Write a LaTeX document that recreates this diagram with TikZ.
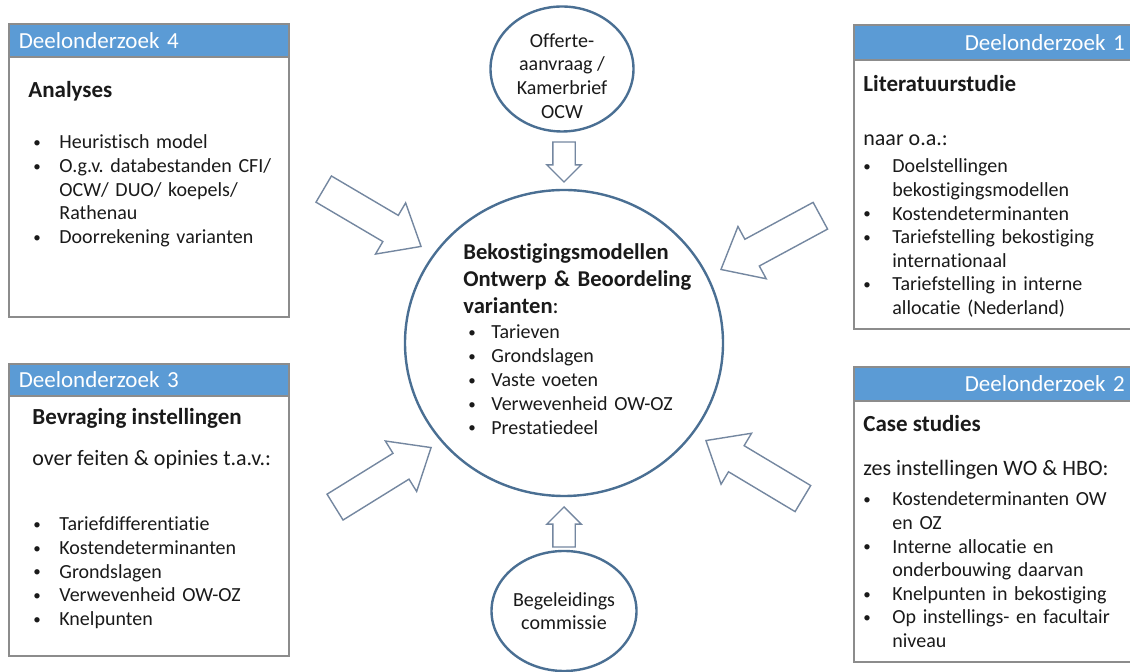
\documentclass[tikz,border=0pt]{standalone}
\usepackage{fontspec}
\setmainfont{Carlito}[Ligatures=NoCommon]
\usepackage{tikz}
\usetikzlibrary{positioning, shapes.geometric, shapes.arrows}

\definecolor{kopblauw}{HTML}{5B9BD5}
\definecolor{randgrijs}{HTML}{8C8C8C}
\definecolor{cirkelblauw}{HTML}{4A6F93}
\definecolor{pijlgrijs}{HTML}{7487A0}
\definecolor{tekstzwart}{HTML}{1A1A1A}

\frenchspacing
\newlength\bulw
\newcommand\bol{\raisebox{0.6pt}{\fontsize{7.5}{8}\selectfont\textbullet}}
\newcommand\itm[1]{\makebox[\bulw][l]{\bol}#1\par}
\newcommand\vrv[1]{\leavevmode\hspace*{\bulw}#1\par}

\begin{document}
\begin{tikzpicture}[x=0.5pt, y=-0.5pt, every node/.style={text=tekstzwart}]
\useasboundingbox (0,0) rectangle (1130,672);

\tikzstyle{deel box}=[draw=randgrijs, line width=0.8pt, fill=white, anchor=north west, inner sep=0pt]
\tikzstyle{kop}=[draw=randgrijs, line width=0.8pt, fill=kopblauw, text=white, anchor=north west, inner xsep=5pt, inner ysep=0pt, font=\fontsize{11.5}{13}\selectfont]
\tikzstyle{titel}=[anchor=base west, inner sep=0pt, font=\fontsize{11.5}{13}\selectfont\bfseries]
\tikzstyle{intro}=[anchor=base west, inner sep=0pt, font=\fontsize{11}{13}\selectfont]
\tikzstyle{lijst}=[anchor=base west, inner sep=0pt, text width=130pt, font=\fontsize{10}{11.8}\selectfont]
\tikzstyle{cirkel}=[ellipse, draw=cirkelblauw, line width=1.2pt, fill=white, inner sep=0pt]
\tikzstyle{invoer pijl}=[single arrow, draw=pijlgrijs, line width=0.7pt, fill=white, anchor=tip, minimum height=56.5pt, minimum width=0pt, inner xsep=0pt, inner ysep=7.25pt, single arrow head extend=7.25pt, single arrow tip angle=80]
\tikzstyle{klein pijl}=[invoer pijl, minimum height=20pt, inner ysep=5.25pt, single arrow head extend=3pt, single arrow tip angle=90]

% Deelonderzoek 4 (linksboven)
\node[deel box, minimum width=140pt, minimum height=146.5pt] (d4) at (8,23) {};
\node[kop, minimum height=16.5pt, text width=130pt, align=left] (k4) at (d4.north west) {Deelonderzoek 4};
\node[titel] (t4) at (28,98) {Analyses};
\node[lijst, execute at begin node={\setlength\bulw{13pt}}] (l4) at (33,149)
  {\itm{Heuristisch model}\itm{O.g.v. databestanden CFI/}\vrv{OCW/ DUO/ koepels/}\vrv{Rathenau}\itm{Doorrekening varianten}};

% Deelonderzoek 3 (linksonder)
\node[deel box, minimum width=140pt, minimum height=146pt] (d3) at (8,363) {};
\node[kop, minimum height=16pt, text width=130pt, align=left] (k3) at (d3.north west) {Deelonderzoek 3};
\node[titel] (t3) at (32,425) {Bevraging instellingen};
\node[intro] (i3) at (32,466) {over feiten \& opinies t.a.v.:};
\node[lijst, execute at begin node={\setlength\bulw{13pt}}] (l3) at (33,531)
  {\itm{Tariefdifferentiatie}\itm{Kostendeterminanten}\itm{Grondslagen}\itm{Verwevenheid OW-OZ}\itm{Knelpunten}};

% Deelonderzoek 1 (rechtsboven)
\node[deel box, minimum width=139.5pt, minimum height=152pt] (d1) at (853,24) {};
\node[kop, minimum height=17.5pt, text width=131.5pt, align=right, inner xsep=4pt] (k1) at (d1.north west) {Deelonderzoek 1};
\node[titel] (t1) at (863,92) {Literatuurstudie};
\node[intro] (i1) at (863,146) {naar o.a.:};
\node[lijst, execute at begin node={\setlength\bulw{14.5pt}}] (l1) at (863,173)
  {\itm{Doelstellingen}\vrv{bekostigingsmodellen}\itm{Kostendeterminanten}\itm{Tariefstelling bekostiging}\vrv{internationaal}\itm{Tariefstelling in interne}\vrv{allocatie (Nederland)}};

% Deelonderzoek 2 (rechtsonder)
\node[deel box, minimum width=139.5pt, minimum height=147.5pt] (d2) at (853,366) {};
\node[kop, minimum height=17pt, text width=131.5pt, align=right, inner xsep=4pt] (k2) at (d2.north west) {Deelonderzoek 2};
\node[titel] (t2) at (863,432) {Case studies};
\node[intro] (i2) at (863,476) {zes instellingen WO \& HBO:};
\node[lijst, execute at begin node={\setlength\bulw{14.5pt}}] (l2) at (863,506)
  {\itm{Kostendeterminanten OW}\vrv{en OZ}\itm{Interne allocatie en}\vrv{onderbouwing daarvan}\itm{Knelpunten in bekostiging}\itm{Op instellings- en facultair}\vrv{niveau}};

% kern: bekostigingsmodellen
\node[cirkel, minimum width=159pt, minimum height=153pt] (kern) at (564,343) {};
\node[lijst, text width=125pt, font=\fontsize{11.3}{13.5}\selectfont\bfseries] (kt) at (463,260)
  {Bekostigingsmodellen\par Ontwerp \& Beoordeling\par varianten{\mdseries:}\par};
\node[lijst, text width=110pt, font=\fontsize{10}{11.9}\selectfont, execute at begin node={\setlength\bulw{11.5pt}}] (kl) at (468,339)
  {\itm{Tarieven}\itm{Grondslagen}\itm{Vaste voeten}\itm{Verwevenheid OW-OZ}\itm{Prestatiedeel}};

% boven en onder
\node[cirkel, minimum width=71.5pt, minimum height=62.5pt] (offerte) at (562,69) {};
\node[align=center, inner sep=0pt, font=\fontsize{10}{11.8}\selectfont] (ot) at (562,76) {Offerte-\\aanvraag /\\Kamerbrief\\OCW};
\node[cirkel, minimum width=72.5pt, minimum height=60pt, align=center, font=\fontsize{10}{11.8}\selectfont] (begeleiding) at (564,611) {Begeleidings\\commissie};

% pijlen naar de kern
\node[invoer pijl, rotate=-30.5] (p4) at (422,247) {};
\node[invoer pijl, rotate=31.8] (p3) at (432,447) {};
\node[invoer pijl, rotate=-151.6] (p1) at (720,270) {};
\node[invoer pijl, rotate=149.1] (p2) at (705,440) {};
\node[klein pijl, rotate=-90] (pboven) at (564,183) {};
\node[klein pijl, rotate=90] (ponder) at (564,506) {};

\end{tikzpicture}
\end{document}
